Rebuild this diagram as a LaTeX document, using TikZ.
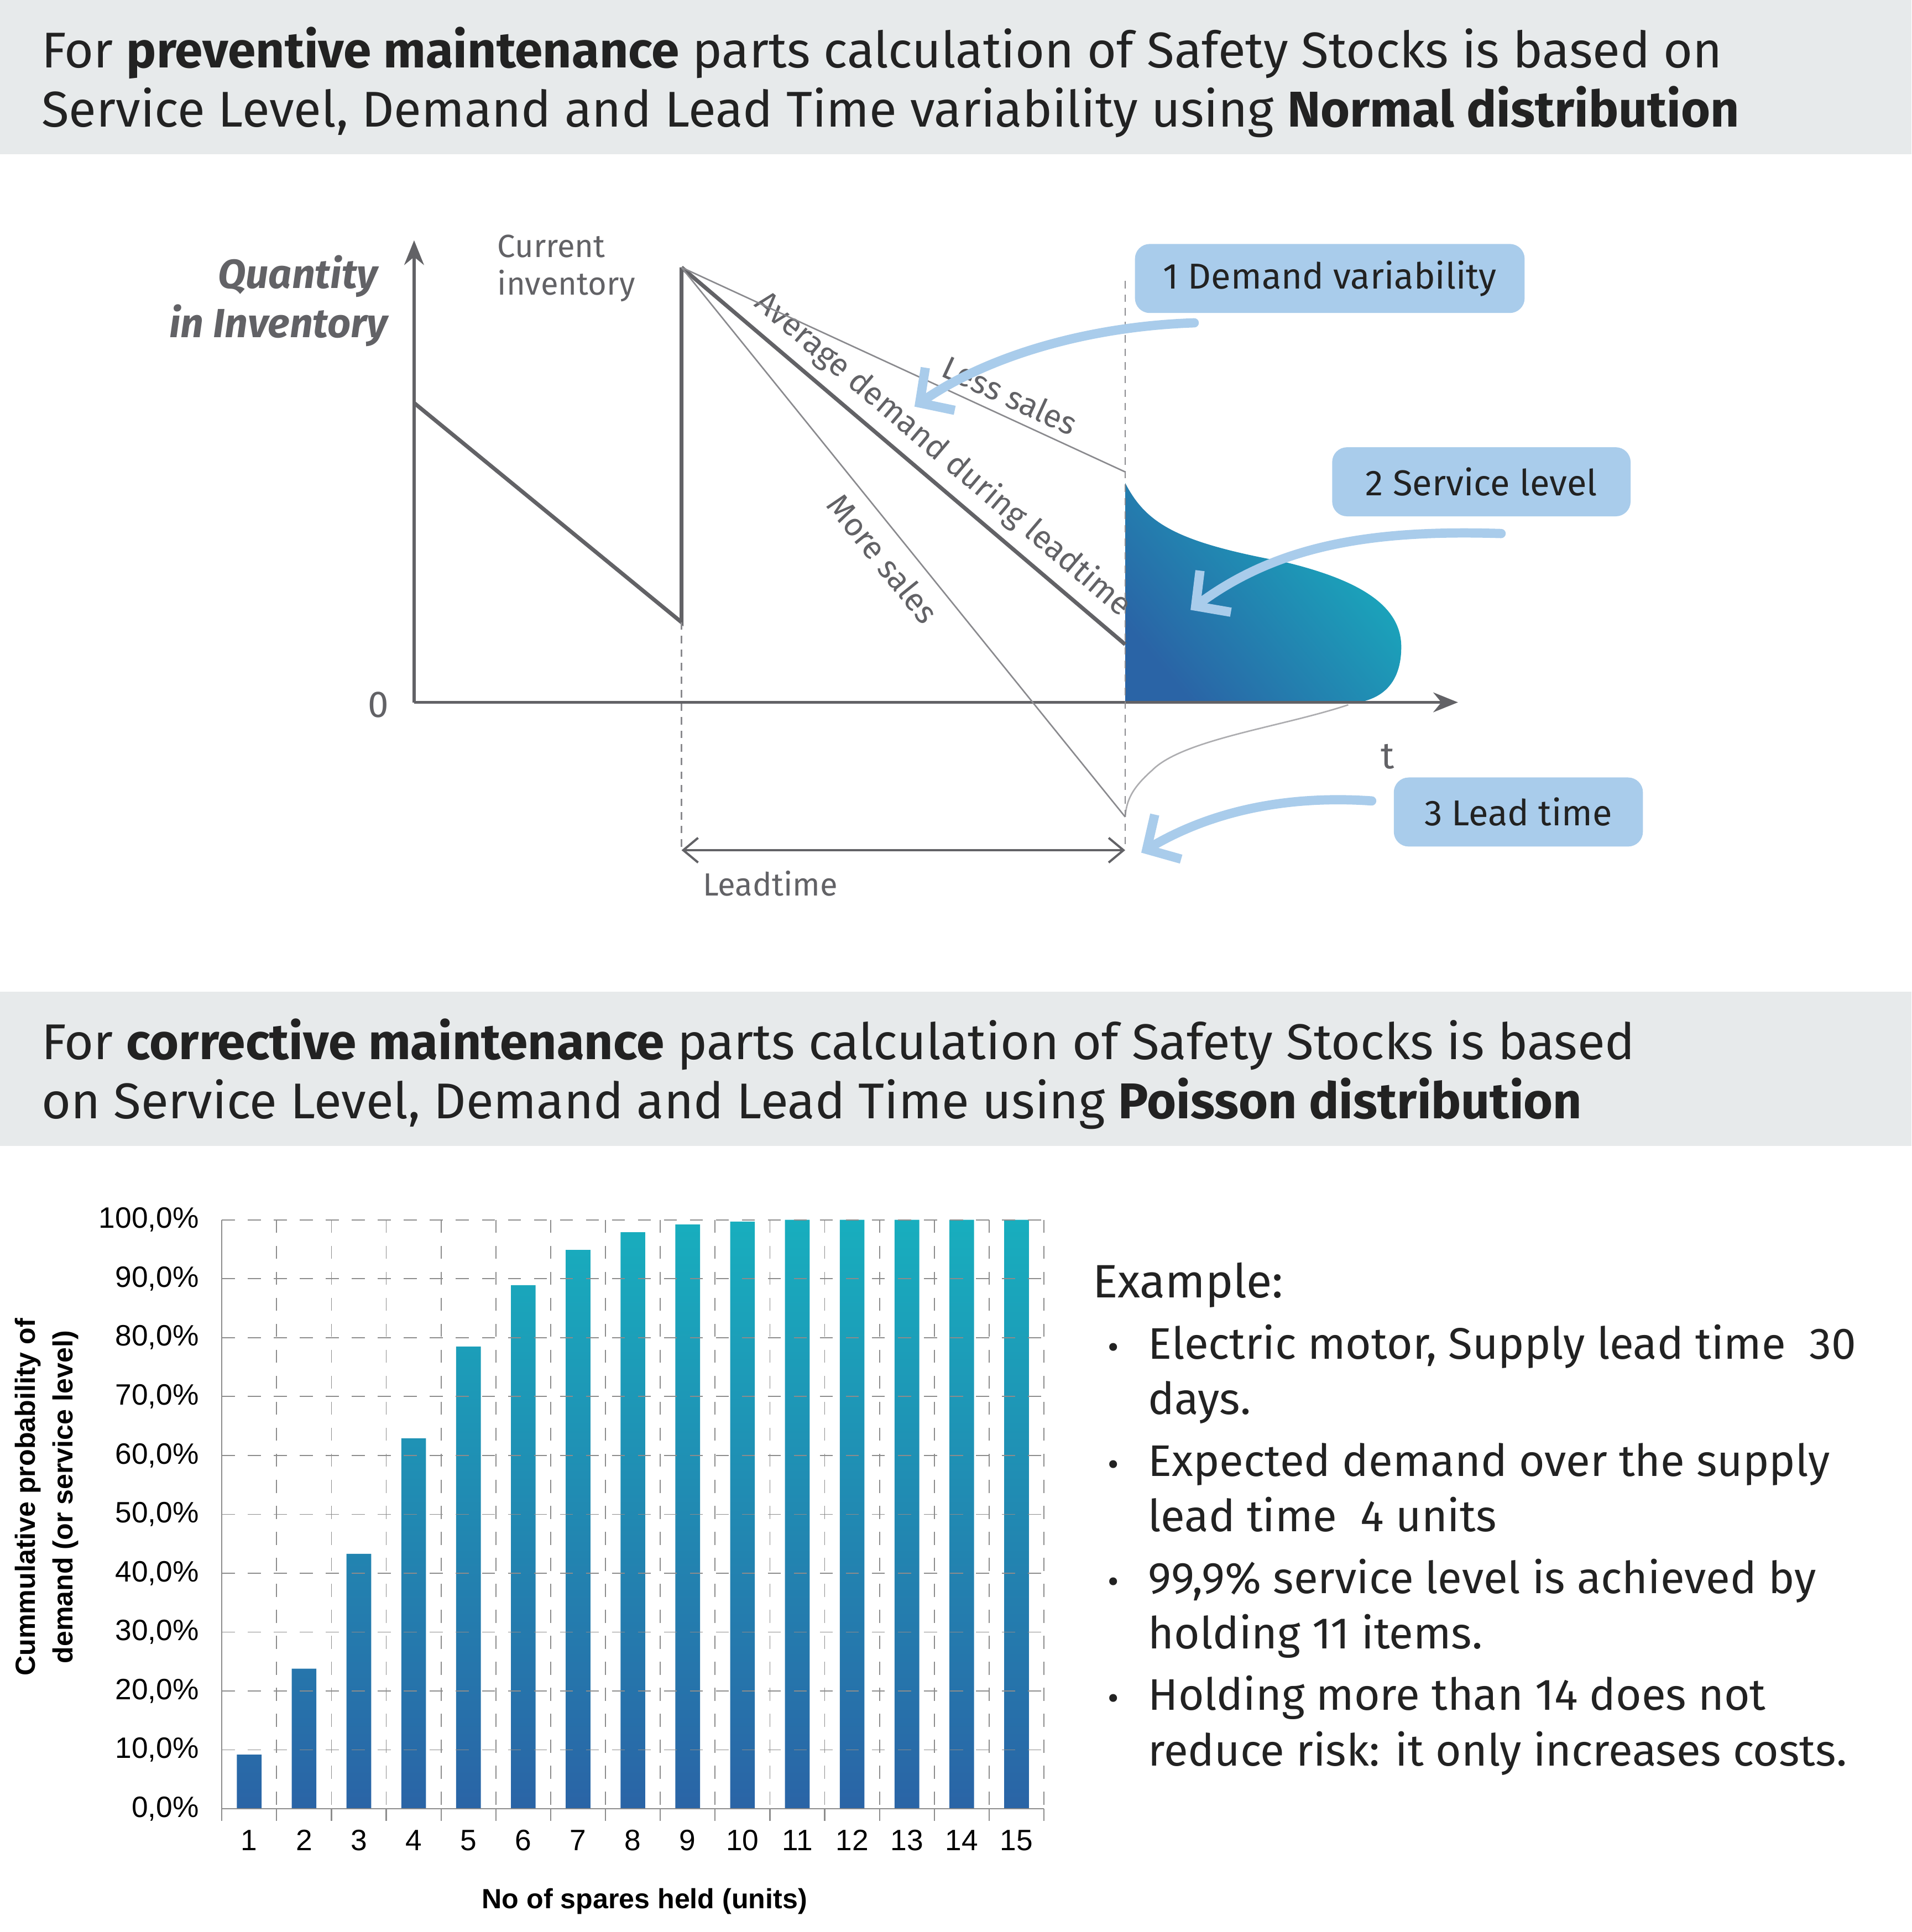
\documentclass[tikz,border=0pt]{standalone}
\usepackage{fontspec}
\setmainfont{Fira Sans}
\newfontfamily\chartfont{Liberation Sans}
\usetikzlibrary{arrows.meta,positioning,calc}
\definecolor{bandgray}{HTML}{E7EAEB}
\definecolor{inkdark}{HTML}{222222}
\definecolor{axisgray}{HTML}{626266}
\definecolor{thingray}{HTML}{8A8A8E}
\definecolor{calloutblue}{HTML}{A9CCEB}
\definecolor{shadeA}{HTML}{2A64A6}
\definecolor{shadeB}{HTML}{4892D4}
\definecolor{shadeC}{HTML}{18AEBE}
\definecolor{gridgray}{HTML}{8C8C8C}

\begin{document}
\begin{tikzpicture}[x=0.01cm,y=-0.01cm]
  % Definir estilos
  \tikzstyle{headtext}=[anchor=base west, inner sep=0pt, text=inkdark, font=\fontsize{11.6}{14}\selectfont]
  \tikzstyle{graylabel}=[text=axisgray, font=\fontsize{7.4}{9}\selectfont, inner sep=0pt]
  \tikzstyle{callout}=[rectangle, rounded corners=0.12cm, fill=calloutblue, text=inkdark, font=\fontsize{8.3}{10}\selectfont, inner sep=0pt]
  \tikzstyle{pointer}=[-{Straight Barb[length=0.2cm, width=0.42cm]}, calloutblue, line width=0.075cm, line cap=round]
  \tikzstyle{axis}=[-{Stealth[length=0.2cm, width=0.16cm]}, axisgray, line width=0.025cm]
  \tikzstyle{saw}=[axisgray, line width=0.032cm]
  \tikzstyle{thin}=[thingray, line width=0.012cm]
  \tikzstyle{guide}=[thingray, dashed, line width=0.012cm, dash pattern=on 0.06cm off 0.05cm]
  \tikzstyle{ticklabel}=[font=\chartfont\fontsize{6.8}{8}\selectfont, inner sep=0pt]
  \tikzstyle{bodytext}=[anchor=base west, inner sep=0pt, text=inkdark, font=\fontsize{10.2}{12}\selectfont]

  \useasboundingbox (0,0) rectangle (1551,1568);

  % Bandas de titulo
  \fill[bandgray] (0,0) rectangle (1551,125);
  \fill[bandgray] (0,805) rectangle (1551,930);
  \node[headtext] (h1a) at (33,55) {For \textbf{preventive maintenance} parts calculation of Safety Stocks is based on};
  \node[headtext] (h1b) at (33,103) {Service Level, Demand and Lead Time variability using \textbf{Normal distribution}};
  \node[headtext] (h2a) at (33,860) {For \textbf{corrective maintenance} parts calculation of Safety Stocks is based};
  \node[headtext] (h2b) at (33,908) {on Service Level, Demand and Lead Time using \textbf{Poisson distribution}};

  % Distribucion normal (relleno)
  \shade[bottom color=shadeA, middle color=shadeB, top color=shadeC, shading angle=-50]
    (913,392) .. controls (930,425) and (955,440) .. (1042,456)
    .. controls (1100,470) and (1137,490) .. (1137,525)
    .. controls (1137,560) and (1115,571) .. (1090,571) -- (913,571) -- cycle;
  \draw[thin, thingray!70] (1094,572) .. controls (1040,590) and (960,600) .. (935,625)
    .. controls (918,640) and (914,650) .. (913,663);

  % Ejes
  \coordinate (orig) at (336,570);
  \coordinate (ytop) at (336,195);
  \coordinate (xend) at (1183,570);
  \draw[axis] (orig) -- (ytop);
  \draw[axis] (orig) -- (xend);
  \node[graylabel, font=\fontsize{8.6}{10}\selectfont] (zero) at (307,572) {0};
  \node[graylabel, anchor=base east, align=right, font=\itshape\bfseries\fontsize{9.4}{11.4}\selectfont] (qty) at (307,234) {Quantity};
  \node[graylabel, anchor=base east, align=right, font=\itshape\bfseries\fontsize{9.4}{11.4}\selectfont] (qty2) at (315,274) {in Inventory};
  \node[graylabel, font=\fontsize{8.6}{10}\selectfont] (tlab) at (1126,614) {t};

  % Inventario en diente de sierra
  \coordinate (s0) at (336,327);
  \coordinate (s1) at (553,505);
  \coordinate (peak) at (553,217);
  \coordinate (avgend) at (913,523);
  \coordinate (lessend) at (913,383);
  \coordinate (moreend) at (913,663);
  \draw[saw] (s0) -- (s1) -- (peak);
  \draw[saw] (peak) -- node[pos=0.55, above, sloped, graylabel, inner sep=2pt] {Average demand during leadtime} (avgend);
  \draw[thin] (peak) -- node[pos=0.72, above, sloped, graylabel, inner sep=2pt] {Less sales} (lessend);
  \draw[thin] (peak) -- node[pos=0.5, below, sloped, graylabel, inner sep=3pt] {More sales} (moreend);
  \node[graylabel, anchor=north west, align=left, font=\fontsize{7.4}{8.6}\selectfont] (curinv) at (403,190) {Current\\inventory};

  % Leadtime
  \coordinate (lt1) at (553,690);
  \coordinate (lt2) at (913,690);
  \coordinate (vtop) at (913,228);
  \draw[guide] (s1) -- (lt1);
  \draw[guide] (vtop) -- (lt2);
  \draw[{Straight Barb[length=0.12cm, width=0.2cm]}-{Straight Barb[length=0.12cm, width=0.2cm]}, axisgray, line width=0.018cm] (lt1) -- (lt2);
  \node[graylabel] (ltlab) at (625,717) {Leadtime};

  % Etiquetas 1, 2, 3
  \node[callout, minimum width=3.16cm, minimum height=0.56cm] (c1) at (1079,226) {1 Demand variability};
  \node[callout, minimum width=2.42cm, minimum height=0.56cm] (c2) at (1202,391) {2 Service level};
  \node[callout, minimum width=2.02cm, minimum height=0.56cm] (c3) at (1232,659) {3 Lead time};
  \coordinate (p1a) at (969,262);
  \coordinate (p1b) at (742,330);
  \coordinate (p2a) at (1218,433);
  \coordinate (p2b) at (966,495);
  \coordinate (p3a) at (1113,650);
  \coordinate (p3b) at (926,692);
  \draw[pointer] (p1a) .. controls (880,265) and (800,290) .. (p1b);
  \draw[pointer] (p2a) .. controls (1120,430) and (1040,440) .. (p2b);
  \draw[pointer] (p3a) .. controls (1040,645) and (980,660) .. (p3b);

  % Grafico de barras (Poisson)
  \begin{scope}
    \clip \foreach \i/\v in {1/9.2,2/23.8,3/43.3,4/62.9,5/78.5,6/88.9,7/94.9,8/97.9,9/99.2,10/99.7,11/100,12/100,13/100,14/100,15/100}
      { ({180+(\i-0.5)*44.47-10},1468) rectangle ({180+(\i-0.5)*44.47+10},{1468-\v*4.78}) };
    \shade[bottom color=shadeA, middle color=shadeB, top color=shadeC] (180,990) rectangle (847,1468);
  \end{scope}
  \foreach \k in {1,...,10}
    \draw[gridgray, dashed, line width=0.008cm] (180,{1468-\k*47.8}) -- (847,{1468-\k*47.8});
  \foreach \j in {1,...,15}
    \draw[gridgray, dashed, line width=0.008cm] ({180+\j*44.47},990) -- ({180+\j*44.47},1468);
  \draw[gridgray, line width=0.01cm] (180,990) -- (180,1468) -- (847,1468);
  \foreach \j in {0,...,15}
    \draw[gridgray, line width=0.01cm] ({180+\j*44.47},1468) -- ({180+\j*44.47},1478);
  \foreach \k/\lab in {0/0,1/10,2/20,3/30,4/40,5/50,6/60,7/70,8/80,9/90,10/100}
    \node[ticklabel, anchor=east] (yl\k) at (162,{1468-\k*47.8}) {\lab,0\%};
  \foreach \i in {1,...,15}
    \node[ticklabel, anchor=base] (xl\i) at ({180+(\i-0.5)*44.47},1502) {\i};
  \node[ticklabel, font=\chartfont\bfseries\fontsize{6.4}{8}\selectfont] (xtitle) at (523,1543) {No of spares held (units)};
  \node[ticklabel, rotate=90, align=center, font=\chartfont\bfseries\fontsize{6.4}{8.6}\selectfont] (ytitle) at (38,1215) {Cummulative probability of\\demand (or service level)};

  % Ejemplo
  \node[bodytext, font=\fontsize{10.8}{12}\selectfont] (ex) at (886,1053) {Example:};
  \foreach \y/\txt in {1103/{Electric motor, Supply lead time\ \ 30}, 1148/days., 1198/Expected demand over the supply, 1243/lead time\ \ 4 units, 1293/{99,9\% service level is achieved by}, 1338/holding 11 items., 1388/Holding more than 14 does not, 1433/reduce risk: it only increases costs.}
    \node[bodytext] at (931,\y) {\txt};
  \foreach \y in {1103,1198,1293,1388}
    \node[bodytext, font=\fontsize{8}{10}\selectfont] at (898,\y) {•};
\end{tikzpicture}
\end{document}
